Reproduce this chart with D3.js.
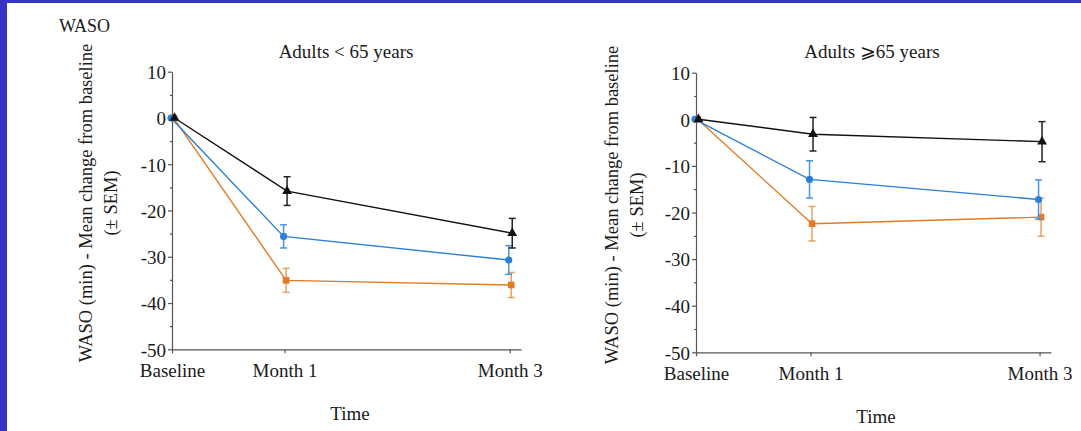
<!DOCTYPE html>
<html>
<head>
<meta charset="utf-8">
<script src="https://cdn.jsdelivr.net/npm/d3@7"></script>
<style>
  html, body { margin: 0; padding: 0; background: #fff; }
  svg { display: block; }
  text { font-family: "Liberation Serif", "Times New Roman", serif; fill: #1a1a1a; }
  .axis path, .axis line { stroke: #555; stroke-width: 1.2; }
  .axis text { font-family: "Liberation Serif", "Times New Roman", serif; font-size: 19px; fill: #1a1a1a; }
</style>
</head>
<body>
<svg width="1081" height="431"></svg>
<script>
// time points (months) and their labels
var timePoints = [0, 1, 3];
var timeLabels = ["Baseline", "Month 1", "Month 3"];
var yTicks = [10, 0, -10, -20, -30, -40, -50];
var yMinorTicks = [5, -5, -15, -25, -35, -45];

// Adults < 65 years
var under65Black = [0, -15.8, -24.9];
var under65BlackSem = [0, 3.1, 3.2];
var under65Blue = [0, -25.6, -30.7];
var under65BlueSem = [0, 2.5, 3.1];
var under65Orange = [0, -35.1, -36.1];
var under65OrangeSem = [0, 2.6, 2.7];

// Adults >= 65 years
var over65Black = [0, -3.2, -4.8];
var over65BlackSem = [0, 3.6, 4.3];
var over65Blue = [0, -12.9, -17.2];
var over65BlueSem = [0, 4.0, 4.2];
var over65Orange = [0, -22.4, -21.0];
var over65OrangeSem = [0, 3.7, 4.1];

var svg = d3.select("svg");

// blue slide frame
svg.append("rect").attr("x", 0).attr("y", 0).attr("width", 1081).attr("height", 3).attr("fill", "#3434c2");
svg.append("rect").attr("x", 0).attr("y", 0).attr("width", 7).attr("height", 431).attr("fill", "#3434c2");

svg.append("text")
    .attr("x", 59).attr("y", 32)
    .style("font-size", "18px")
    .text("WASO");

var styles = {
    black:  {color: "#111", err: "#222", shape: d3.symbolTriangle, size: 42, dx: 2.5},
    blue:   {color: "#2a7fd6", err: "#4b93dc", shape: d3.symbolCircle, size: 40, dx: -1},
    orange: {color: "#e37b25", err: "#e9a262", shape: d3.symbolSquare, size: 44, dx: 1.5}
};

function drawPanel(cfg) {
    var x = d3.scaleLinear().domain([0, 3.1]).range([cfg.left, cfg.right]);
    var y = d3.scaleLinear().domain([-50, 10]).range([cfg.bottom, cfg.top]);

    var g = svg.append("g");

    // minor y ticks
    g.append("g")
        .attr("class", "axis")
        .attr("transform", "translate(" + cfg.left + ",0)")
        .call(d3.axisLeft(y).tickValues(yMinorTicks).tickSize(2).tickFormat(""))
        .select(".domain").remove();

    g.append("g")
        .attr("class", "axis")
        .attr("transform", "translate(" + cfg.left + ",0)")
        .call(d3.axisLeft(y).tickValues(yTicks).tickSize(4).tickSizeOuter(0).tickPadding(2)
            .tickFormat(function(d) { return String(d); }))
        .selectAll("text").attr("dy", "0.36em");

    g.append("g")
        .attr("class", "axis")
        .attr("transform", "translate(0," + cfg.bottom + ")")
        .call(d3.axisBottom(x).tickValues(timePoints).tickSize(4).tickSizeOuter(0).tickPadding(6)
            .tickFormat(function(d, i) { return timeLabels[i]; }))
        .selectAll("text").attr("dy", "0.95em");

    // series
    cfg.series.forEach(function(s) {
        var st = styles[s.key];
        var pts = s.values.map(function(v, i) {
            return {px: x(timePoints[i]) + st.dx, v: v, sem: s.sem[i]};
        });

        g.append("path")
            .datum(pts)
            .attr("fill", "none")
            .attr("stroke", st.color)
            .attr("stroke-width", 1.4)
            .attr("d", d3.line().x(function(d) { return d.px; }).y(function(d) { return y(d.v); }));

        var eb = g.append("g").selectAll("g")
            .data(pts.filter(function(d) { return d.sem > 0; }))
            .join("g")
            .attr("stroke", st.err)
            .attr("stroke-width", 1.5);
        eb.append("line")
            .attr("x1", function(d) { return d.px; }).attr("x2", function(d) { return d.px; })
            .attr("y1", function(d) { return y(d.v + d.sem); }).attr("y2", function(d) { return y(d.v - d.sem); });
        eb.append("line")
            .attr("x1", function(d) { return d.px - 3.5; }).attr("x2", function(d) { return d.px + 3.5; })
            .attr("y1", function(d) { return y(d.v + d.sem); }).attr("y2", function(d) { return y(d.v + d.sem); });
        eb.append("line")
            .attr("x1", function(d) { return d.px - 3.5; }).attr("x2", function(d) { return d.px + 3.5; })
            .attr("y1", function(d) { return y(d.v - d.sem); }).attr("y2", function(d) { return y(d.v - d.sem); });

        g.append("g").selectAll("path")
            .data(pts)
            .join("path")
            .attr("transform", function(d) { return "translate(" + d.px + "," + y(d.v) + ")"; })
            .attr("d", d3.symbol().type(st.shape).size(st.size))
            .attr("fill", st.color);
    });

    g.append("text")
        .attr("x", cfg.titleX).attr("y", 58)
        .attr("text-anchor", "middle")
        .style("font-size", "19px")
        .text(cfg.title);

    g.append("text")
        .attr("x", cfg.titleX + 4).attr("y", cfg.bottom + 71)
        .attr("text-anchor", "middle")
        .style("font-size", "19px")
        .text("Time");

    var yl = g.append("text")
        .attr("transform", "translate(" + cfg.ylabelX + "," + cfg.ylabelY + ") rotate(-90)")
        .attr("text-anchor", "middle")
        .style("font-size", "18.5px");
    yl.append("tspan").attr("x", 0).attr("dy", "0.35em").text("WASO (min) - Mean change from baseline");
    yl.append("tspan").attr("x", 0).attr("dy", "1.3em").text("(\u00b1 SEM)");
}

drawPanel({
    left: 172, right: 521, top: 71.7, bottom: 349.3,
    title: "Adults < 65 years", titleX: 346,
    ylabelX: 86, ylabelY: 203,
    series: [
        {key: "orange", values: under65Orange, sem: under65OrangeSem},
        {key: "blue", values: under65Blue, sem: under65BlueSem},
        {key: "black", values: under65Black, sem: under65BlackSem}
    ]
});

drawPanel({
    left: 696, right: 1051, top: 72.7, bottom: 352.3,
    title: "Adults \u2A7E65 years", titleX: 872,
    ylabelX: 612, ylabelY: 205,
    series: [
        {key: "orange", values: over65Orange, sem: over65OrangeSem},
        {key: "blue", values: over65Blue, sem: over65BlueSem},
        {key: "black", values: over65Black, sem: over65BlackSem}
    ]
});
</script>
</body>
</html>
